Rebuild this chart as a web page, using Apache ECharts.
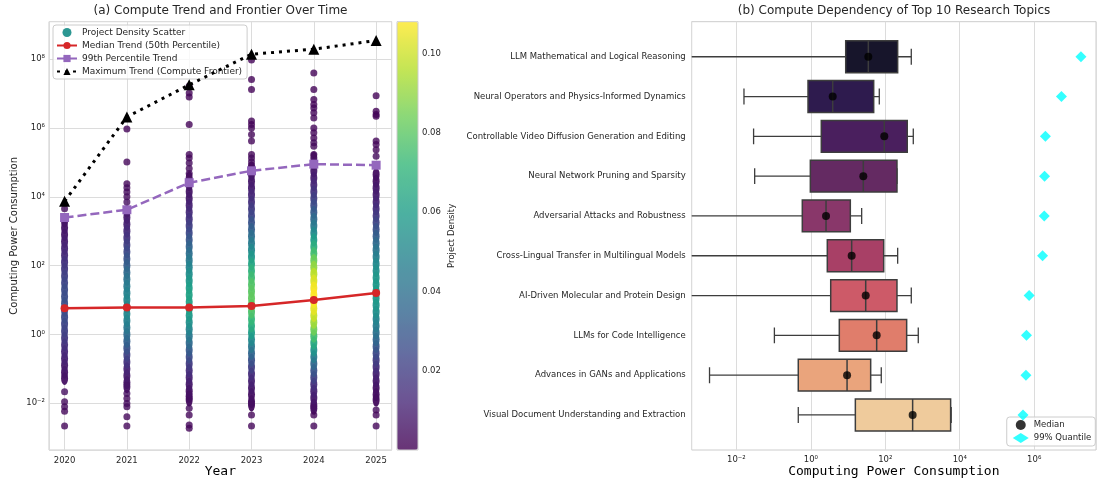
<!DOCTYPE html>
<html><head><meta charset="utf-8">
<script src="https://cdn.jsdelivr.net/npm/echarts@6/dist/echarts.min.js"></script>
<style>html,body{margin:0;padding:0;background:#fff}#c{width:1097px;height:480px}</style>
</head><body><div id="c"></div>
<script>
// ---------- Panel (a): trend lines (computing power) ----------
const years = [2020, 2021, 2022, 2023, 2024, 2025];
const medianTrend = [5.8, 6.1, 6.1, 6.7, 10, 15.9];
const p99Trend = [2500, 4200, 25700, 57000, 89000, 83000];
const maxTrend = [7400, 2.1e6, 1.8e7, 1.4e8, 1.95e8, 3.5e8];

// ---------- Panel (a): project scatter, [log10(compute), density] ----------
const dense2020 = [[3.29,0.005],[3.1,0.006],[2.9,0.007],[2.7,0.009],[2.5,0.011],[2.3,0.013],[2.1,0.016],[1.9,0.018],[1.7,0.021],[1.5,0.023],[1.3,0.025],[1.1,0.026],[0.9,0.027],[0.7,0.026],[0.5,0.025],[0.3,0.023],[0.1,0.021],[-0.1,0.018],[-0.3,0.015],[-0.5,0.012],[-0.7,0.010],[-0.9,0.008],[-1.1,0.006],[-1.28,0.005]];
const sparse2020 = [[3.65,0.003],[-1.67,0.004],[-1.96,0.003],[-2.10,0.003],[-2.23,0.002],[-2.66,0.002]];
const dense2021 = [[3.58,0.006],[3.4,0.008],[3.2,0.010],[3.0,0.013],[2.8,0.016],[2.6,0.020],[2.4,0.024],[2.2,0.028],[2.0,0.032],[1.8,0.037],[1.6,0.041],[1.4,0.045],[1.2,0.048],[1.0,0.050],[0.8,0.051],[0.6,0.050],[0.4,0.047],[0.2,0.043],[0.0,0.038],[-0.2,0.033],[-0.4,0.027],[-0.6,0.021],[-0.8,0.016],[-1.0,0.011],[-1.2,0.008],[-1.4,0.006],[-1.52,0.005]];
const sparse2021 = [[5.97,0.001],[5.01,0.002],[4.38,0.002],[4.26,0.003],[4.14,0.003],[4.0,0.003],[3.85,0.004],[-1.72,0.004],[-1.86,0.003],[-2.01,0.003],[-2.10,0.003],[-2.39,0.002],[-2.66,0.002]];
const dense2022 = [[4.55,0.004],[4.35,0.005],[4.15,0.006],[3.95,0.008],[3.75,0.010],[3.55,0.013],[3.35,0.016],[3.15,0.020],[2.95,0.024],[2.75,0.029],[2.55,0.034],[2.35,0.039],[2.15,0.044],[1.95,0.049],[1.75,0.053],[1.55,0.057],[1.35,0.060],[1.15,0.062],[0.95,0.062],[0.75,0.061],[0.55,0.058],[0.35,0.054],[0.15,0.049],[-0.05,0.043],[-0.25,0.037],[-0.45,0.031],[-0.65,0.025],[-0.85,0.019],[-1.05,0.014],[-1.25,0.010],[-1.45,0.007],[-1.65,0.005],[-1.8,0.004],[-1.91,0.003]];
const sparse2022 = [[7.22,0.001],[7.02,0.001],[6.90,0.001],[6.10,0.001],[5.23,0.002],[5.13,0.002],[4.98,0.003],[4.82,0.003],[4.68,0.003],[-2.15,0.003],[-2.34,0.002],[-2.63,0.002],[-2.73,0.002]];
const dense2023 = [[4.84,0.004],[4.65,0.005],[4.45,0.007],[4.25,0.009],[4.05,0.012],[3.85,0.015],[3.65,0.019],[3.45,0.023],[3.25,0.028],[3.05,0.033],[2.85,0.039],[2.65,0.045],[2.45,0.051],[2.25,0.057],[2.05,0.063],[1.85,0.069],[1.65,0.074],[1.45,0.078],[1.25,0.080],[1.05,0.081],[0.85,0.080],[0.65,0.077],[0.45,0.072],[0.25,0.066],[0.05,0.059],[-0.15,0.051],[-0.35,0.043],[-0.55,0.035],[-0.75,0.027],[-0.95,0.020],[-1.15,0.014],[-1.35,0.010],[-1.55,0.007],[-1.75,0.005],[-1.95,0.004],[-2.05,0.003]];
const sparse2023 = [[7.98,0.001],[7.41,0.001],[7.12,0.001],[6.20,0.001],[6.10,0.001],[6.0,0.002],[5.81,0.002],[5.62,0.002],[5.23,0.002],[5.13,0.003],[5.02,0.003],[4.92,0.003],[-2.34,0.002],[-2.66,0.002]];
const dense2024 = [[5.13,0.004],[4.95,0.005],[4.75,0.007],[4.55,0.009],[4.35,0.012],[4.15,0.016],[3.95,0.020],[3.75,0.025],[3.55,0.031],[3.35,0.037],[3.15,0.044],[2.95,0.051],[2.75,0.059],[2.55,0.067],[2.35,0.075],[2.15,0.083],[1.95,0.090],[1.75,0.097],[1.55,0.102],[1.35,0.106],[1.15,0.108],[0.95,0.107],[0.75,0.104],[0.55,0.099],[0.35,0.092],[0.15,0.084],[-0.05,0.075],[-0.25,0.065],[-0.45,0.055],[-0.65,0.045],[-0.85,0.036],[-1.05,0.028],[-1.25,0.021],[-1.45,0.015],[-1.65,0.010],[-1.85,0.007],[-2.05,0.005],[-2.15,0.004]];
const sparse2024 = [[7.60,0.001],[7.12,0.001],[6.83,0.001],[6.68,0.001],[6.58,0.002],[6.44,0.002],[6.29,0.002],[6.0,0.002],[5.86,0.002],[5.71,0.002],[5.57,0.003],[5.47,0.003],[5.23,0.003],[-2.34,0.002],[-2.66,0.002]];
const dense2025 = [[4.65,0.004],[4.45,0.005],[4.25,0.007],[4.05,0.009],[3.85,0.011],[3.65,0.014],[3.45,0.018],[3.25,0.022],[3.05,0.027],[2.85,0.032],[2.65,0.037],[2.45,0.042],[2.25,0.047],[2.05,0.051],[1.85,0.054],[1.65,0.057],[1.45,0.058],[1.25,0.059],[1.05,0.058],[0.85,0.056],[0.65,0.053],[0.45,0.049],[0.25,0.045],[0.05,0.040],[-0.15,0.035],[-0.35,0.029],[-0.55,0.024],[-0.75,0.019],[-0.95,0.014],[-1.15,0.010],[-1.35,0.007],[-1.55,0.005],[-1.75,0.004],[-1.91,0.003]];
const sparse2025 = [[6.94,0.001],[6.49,0.001],[6.39,0.001],[6.34,0.001],[5.62,0.002],[5.52,0.002],[5.37,0.002],[5.18,0.003],[4.94,0.003],[-2.20,0.003],[-2.34,0.002],[-2.66,0.002]];

// ---------- Panel (b): box statistics (computing power) ----------
const topics = ['LLM Mathematical and Logical Reasoning','Neural Operators and Physics-Informed Dynamics','Controllable Video Diffusion Generation and Editing','Neural Network Pruning and Sparsity','Adversarial Attacks and Robustness','Cross-Lingual Transfer in Multilingual Models','AI-Driven Molecular and Protein Design','LLMs for Code Intelligence','Advances in GANs and Applications','Visual Document Understanding and Extraction'];
const whiskerLow = [1e-4, 0.016, 0.029, 0.031, 1e-4, 1e-4, 1e-4, 0.105, 0.0019, 0.46];
const q1 = [8.65, 0.84, 1.91, 0.97, 0.59, 2.77, 3.42, 5.82, 0.46, 15.7];
const medians = [35, 3.87, 94, 25.7, 2.56, 12.5, 29.8, 58.7, 9.4, 543];
const q3 = [215, 48.8, 389, 206, 11.5, 90.6, 206, 375, 40.5, 5690];
const whiskerHigh = [499, 69, 565, 206, 23.2, 215, 499, 769, 78, 5890];
const q99 = [1.8e7, 5.4e6, 2.0e6, 1.9e6, 1.86e6, 1.68e6, 7.3e5, 6.2e5, 6.0e5, 5.0e5];
const boxColors = ['#17152b','#2e1b4e','#4a1f5e','#642a62','#89376a','#a84066','#cd5a68','#e07d6b','#eaa47c','#efcb9c'];

const viridis = ['#440154','#482878','#3e4989','#31688e','#26828e','#1f9e89','#35b779','#6ece58','#b5de2b','#fde725'];
function wash(hex, a){const n=parseInt(hex.slice(1),16);const f=c=>Math.round(c*a+255*(1-a));return 'rgb('+f(n>>16)+','+f((n>>8)&255)+','+f(n&255)+')';}
const SUP = {'-':'\u207B','0':'\u2070','1':'\u00B9','2':'\u00B2','3':'\u00B3','4':'\u2074','5':'\u2075','6':'\u2076','7':'\u2077','8':'\u2078','9':'\u2079'};
function pow10(v){const r=Math.round(v);if(Math.abs(v-r)>1e-6||r%2!==0)return '';return '10'+String(r).split('').map(c=>SUP[c]).join('');}
const lg = Math.log10;

const denseYears = [dense2020,dense2021,dense2022,dense2023,dense2024,dense2025];
const sparseYears = [sparse2020,sparse2021,sparse2022,sparse2023,sparse2024,sparse2025];
const densePts = []; const sparsePts = [];
years.forEach((y,i)=>{denseYears[i].forEach(p=>densePts.push([y,p[0],p[1]])); sparseYears[i].forEach(p=>sparsePts.push([y,p[0],p[1]]));});
densePts.sort((a,b)=>a[2]-b[2]);

const TXT = '#262626';
const FONT = 'DejaVu Sans';
const chart = echarts.init(document.getElementById('c'));
const option = {
  animation:false,
  backgroundColor:'#fff',
  textStyle:{fontFamily:FONT},
  title:[
    {text:'(a) Compute Trend and Frontier Over Time', left:220.5, textAlign:'center', top:0, padding:[5,0], textStyle:{fontSize:12,fontWeight:'normal',color:TXT,fontFamily:FONT}},
    {text:'(b) Compute Dependency of Top 10 Research Topics', left:894, textAlign:'center', top:0, padding:[5,0], textStyle:{fontSize:12,fontWeight:'normal',color:TXT,fontFamily:FONT}}
  ],
  grid:[
    {left:49, top:21.7, width:342.7, height:428.3, outerBoundsMode:'none', containLabel:false, show:true, borderColor:'#cccccc', borderWidth:1, backgroundColor:'transparent'},
    {left:691.7, top:21.7, width:404.3, height:428.3, outerBoundsMode:'none', containLabel:false, show:true, borderColor:'#cccccc', borderWidth:1, backgroundColor:'transparent'},
    {left:397, top:21.7, width:21, height:428.3, outerBoundsMode:'none', containLabel:false, show:true, borderColor:'#cccccc', borderWidth:1, backgroundColor:'transparent', z:6}
  ],
  xAxis:[
    {gridIndex:0, type:'value', min:2019.75, max:2025.25, splitNumber:5, axisLine:{show:false}, axisTick:{show:false},
     splitLine:{show:true, lineStyle:{color:'#dcdcdc', width:1}},
     axisLabel:{fontSize:8.5, color:TXT, margin:6, showMinLabel:false, showMaxLabel:false, formatter:v=>Number.isInteger(v)?String(v):''},
     name:'Year', nameLocation:'middle', nameGap:15, nameMoveOverlap:false, nameTextStyle:{fontFamily:'DejaVu Sans Mono', fontSize:13, color:'#000'}},
    {gridIndex:1, type:'value', min:-3.2, max:7.66, splitNumber:5, axisLine:{show:false}, axisTick:{show:false},
     splitLine:{show:true, lineStyle:{color:'#dcdcdc', width:1}},
     axisLabel:{fontSize:8.5, color:TXT, margin:5, showMinLabel:false, showMaxLabel:false, formatter:pow10},
     name:'Computing Power Consumption', nameLocation:'middle', nameGap:15, nameMoveOverlap:false, nameTextStyle:{fontFamily:'DejaVu Sans Mono', fontSize:13, color:'#000'}},
    {gridIndex:2, type:'value', show:false, min:0, max:1}
  ],
  yAxis:[
    {gridIndex:0, type:'value', min:-3.36, max:9.09, splitNumber:6, axisLine:{show:false}, axisTick:{show:false},
     splitLine:{show:true, lineStyle:{color:'#dcdcdc', width:1}},
     axisLabel:{fontSize:8.5, color:TXT, margin:4, showMinLabel:false, showMaxLabel:false, formatter:pow10},
     name:'Computing Power Consumption', nameLocation:'middle', nameGap:30, nameMoveOverlap:false, nameTextStyle:{fontSize:10, color:TXT}},
    {gridIndex:1, type:'value', min:-0.88, max:9.88, inverse:true, splitNumber:10, axisLine:{show:false}, axisTick:{show:false}, splitLine:{show:false},
     axisLabel:{fontSize:8.5, color:TXT, margin:6, customValues:[0,1,2,3,4,5,6,7,8,9], formatter:v=>(Number.isInteger(v)&&topics[v])?topics[v]:''}},
    {gridIndex:2, type:'value', position:'right', min:0, max:0.108, splitNumber:5, axisLine:{show:false}, splitLine:{show:false},
     axisTick:{show:true, length:3.5, lineStyle:{color:TXT}, customValues:[0.02,0.04,0.06,0.08,0.10]},
     axisLabel:{fontSize:8.5, color:TXT, margin:4, customValues:[0.02,0.04,0.06,0.08,0.10], formatter:v=>(v<=0||v>0.107)?'':v.toFixed(2)},
     name:'Project Density', nameLocation:'middle', nameGap:29, nameMoveOverlap:false, nameTextStyle:{fontSize:8.5, color:TXT}}
  ],
  visualMap:[{
    type:'continuous', min:0, max:0.108, dimension:2, seriesIndex:[0,1],
    inRange:{color:viridis}, controller:{inRange:{color:viridis.map(c=>wash(c,0.8))}},
    orient:'vertical', left:397, top:21.7, itemWidth:21, itemHeight:428.3, padding:0,
    text:['',''], calculable:false, showLabel:false, hoverLink:false
  }],
  legend:[
    {data:[{name:'Project Density Scatter', icon:'circle', itemStyle:{color:'#21918c'}}, 'Median Trend (50th Percentile)', '99th Percentile Trend', 'Maximum Trend (Compute Frontier)'],
     orient:'vertical', left:53, top:25, itemWidth:20, itemHeight:9, itemGap:4, padding:[3,5,3,3],
     borderColor:'#cccccc', borderWidth:1, borderRadius:3, backgroundColor:'rgba(255,255,255,0.8)',
     textStyle:{fontSize:9, color:TXT}, selectedMode:false},
    {data:['Median','99% Quantile'], orient:'vertical', right:1.7, bottom:34, itemWidth:16, itemHeight:10, itemGap:3, padding:[3,4,3,6],
     borderColor:'#cccccc', borderWidth:1, borderRadius:3, backgroundColor:'rgba(255,255,255,0.8)',
     textStyle:{fontSize:8.5, color:TXT}, selectedMode:false}
  ],
  series:[
    {type:'scatter', name:'Project Density Scatter', xAxisIndex:0, yAxisIndex:0, data:densePts, symbolSize:[7,13], itemStyle:{opacity:0.95}, z:2, silent:true},
    {type:'scatter', name:'Project Density Scatter', xAxisIndex:0, yAxisIndex:0, data:sparsePts, symbolSize:7, itemStyle:{opacity:0.8}, z:2, silent:true},
    {type:'line', name:'Median Trend (50th Percentile)', xAxisIndex:0, yAxisIndex:0, data:years.map((y,i)=>[y,lg(medianTrend[i])]),
     color:'#d62728', lineStyle:{width:2.5}, symbol:'circle', symbolSize:8, z:4, silent:true},
    {type:'line', name:'99th Percentile Trend', xAxisIndex:0, yAxisIndex:0, data:years.map((y,i)=>[y,lg(p99Trend[i])]),
     color:'#9467bd', lineStyle:{width:2.5, type:[9,4]}, symbol:'rect', symbolSize:9, z:4, silent:true},
    {type:'line', name:'Maximum Trend (Compute Frontier)', xAxisIndex:0, yAxisIndex:0, data:years.map((y,i)=>[y,lg(maxTrend[i])]),
     color:'#000000', lineStyle:{width:3, type:[3,5]}, symbol:'triangle', symbolSize:11, z:4, silent:true},
    {type:'custom', name:'boxes', xAxisIndex:1, yAxisIndex:1, clip:true, z:2, silent:true,
     data:topics.map((t,i)=>[i, lg(whiskerLow[i]), lg(q1[i]), lg(medians[i]), lg(q3[i]), lg(whiskerHigh[i])]),
     encode:{x:[1,2,3,4,5], y:0},
     renderItem:function(params, api){
       const i = api.value(0);
       const band = Math.abs(api.size([0,1])[1]);
       const pLo = api.coord([api.value(1), i]);
       const pQ1 = api.coord([api.value(2), i]);
       const pMed = api.coord([api.value(3), i]);
       const pQ3 = api.coord([api.value(4), i]);
       const pHi = api.coord([api.value(5), i]);
       const y = pQ1[1];
       const cs = params.coordSys;
       const stroke = '#3d3d3d';
       const ch = [];
       const xLo = Math.max(pLo[0], cs.x);
       ch.push({type:'line', shape:{x1:xLo,y1:y,x2:pQ1[0],y2:y}, style:{stroke:stroke, lineWidth:1.3}});
       if (pLo[0] >= cs.x) ch.push({type:'line', shape:{x1:pLo[0],y1:y-band*0.2,x2:pLo[0],y2:y+band*0.2}, style:{stroke:stroke, lineWidth:1.3}});
       ch.push({type:'line', shape:{x1:pQ3[0],y1:y,x2:pHi[0],y2:y}, style:{stroke:stroke, lineWidth:1.3}});
       ch.push({type:'line', shape:{x1:pHi[0],y1:y-band*0.2,x2:pHi[0],y2:y+band*0.2}, style:{stroke:stroke, lineWidth:1.3}});
       ch.push({type:'rect', shape:{x:pQ1[0], y:y-band*0.4, width:pQ3[0]-pQ1[0], height:band*0.8}, style:{fill:boxColors[params.dataIndex], stroke:stroke, lineWidth:1.5}});
       ch.push({type:'line', shape:{x1:pMed[0],y1:y-band*0.4,x2:pMed[0],y2:y+band*0.4}, style:{stroke:stroke, lineWidth:1.5}});
       return {type:'group', children:ch};
     }},
    {type:'scatter', name:'Median', xAxisIndex:1, yAxisIndex:1, data:topics.map((t,i)=>[lg(medians[i]), i]),
     symbol:'circle', symbolSize:8, itemStyle:{color:'#000000'}, z:5, silent:true},
    {type:'scatter', name:'99% Quantile', xAxisIndex:1, yAxisIndex:1, data:topics.map((t,i)=>[lg(q99[i]), i]),
     symbol:'diamond', symbolSize:11, itemStyle:{color:'#00ffff'}, z:5, silent:true}
  ]
};
chart.setOption(option);
</script></body></html>
